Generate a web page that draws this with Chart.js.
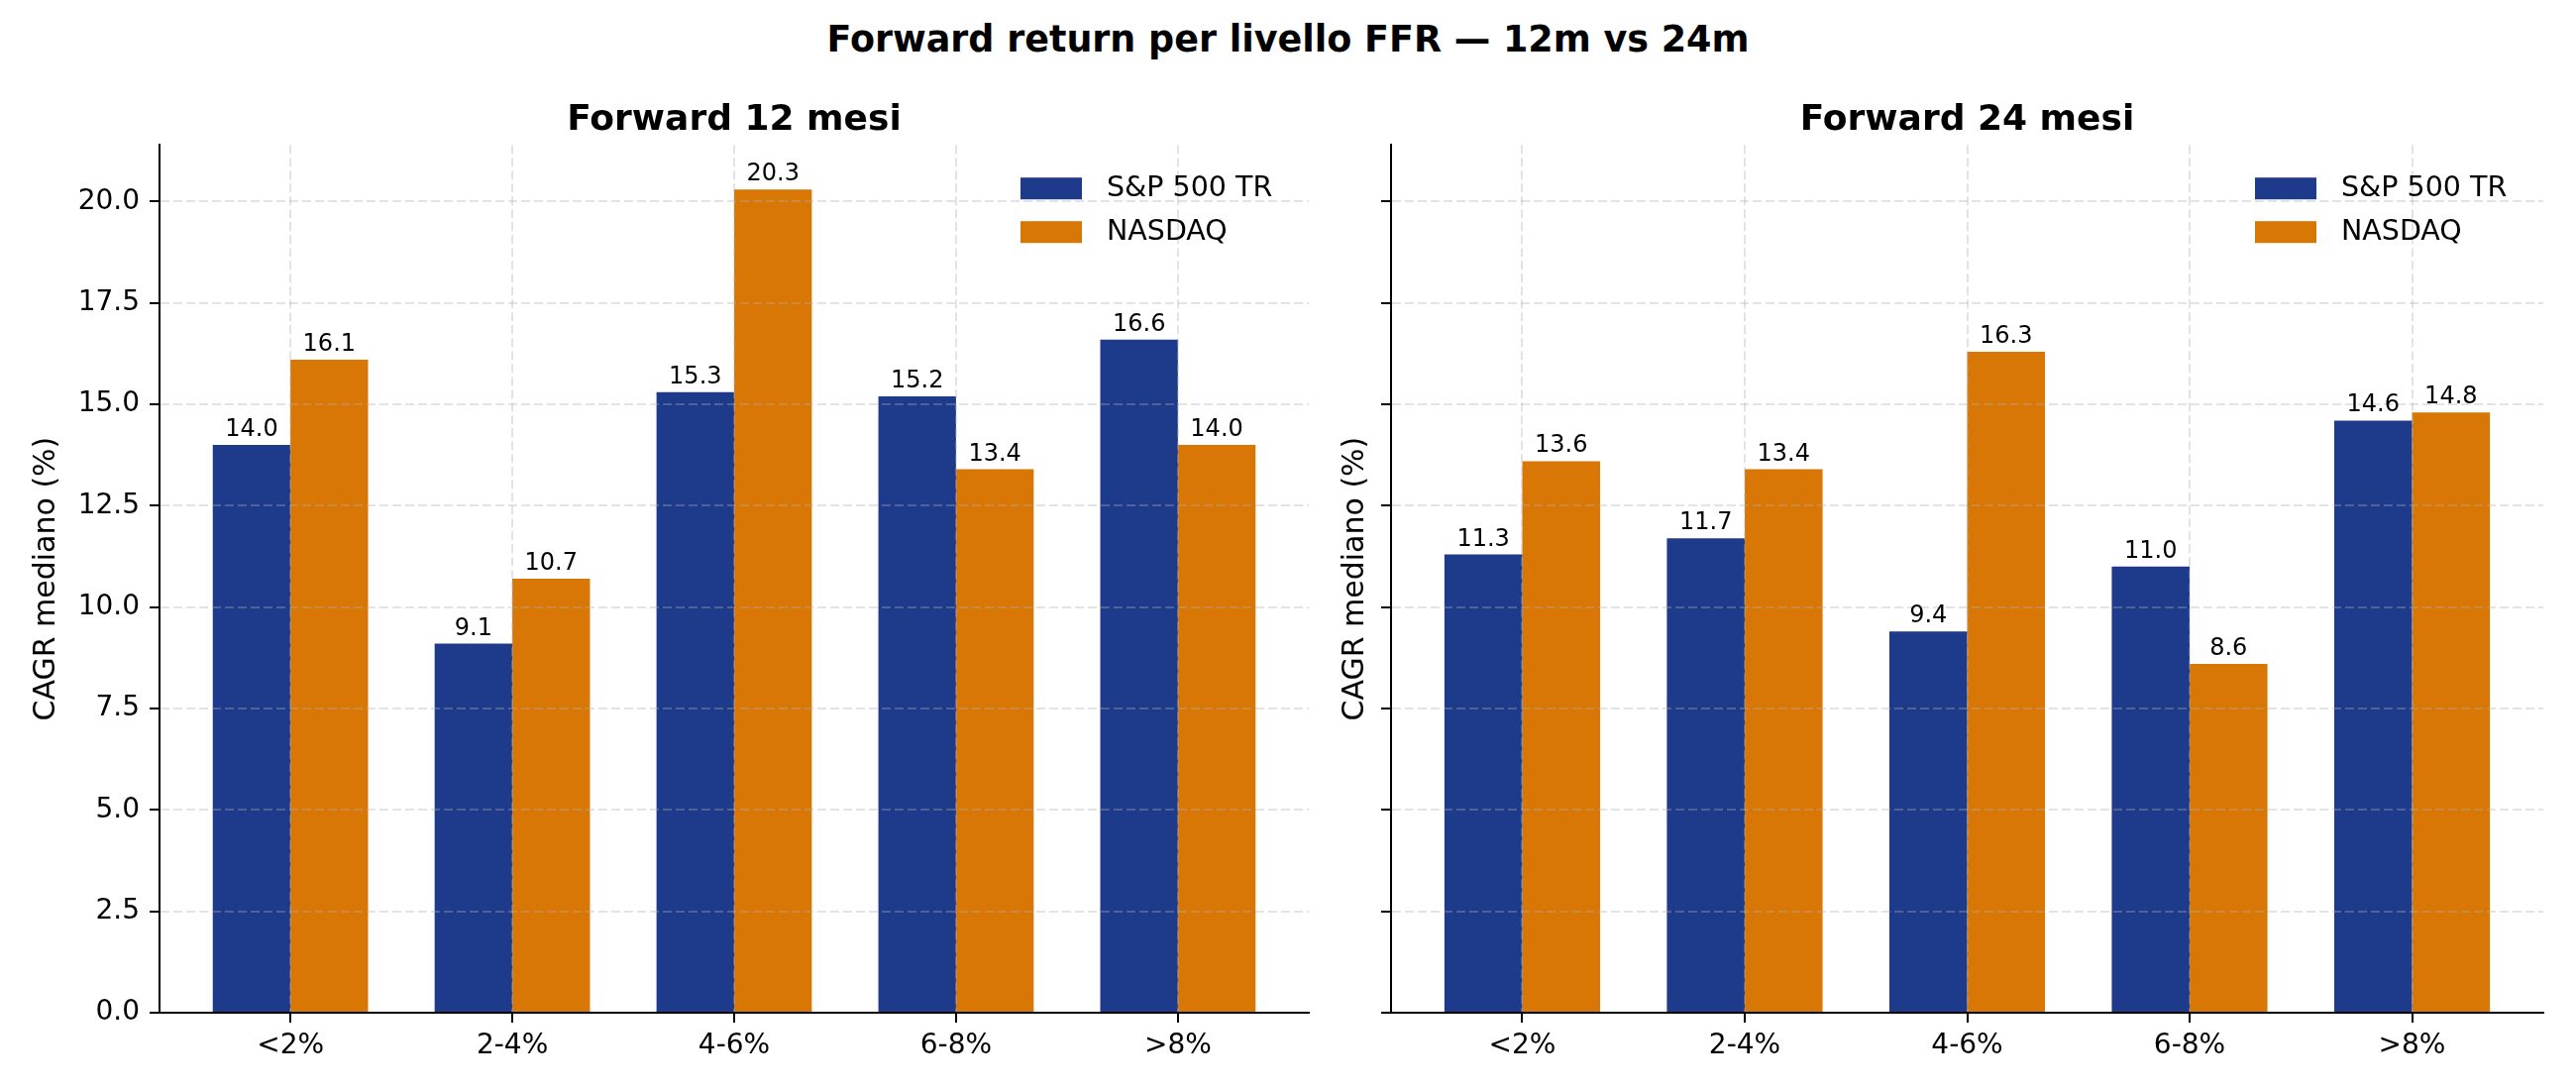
<!DOCTYPE html>
<html lang="it">
<head>
<meta charset="utf-8">
<title>Forward return per livello FFR — 12m vs 24m</title>
<script src="https://cdn.jsdelivr.net/npm/chart.js@4.4.1/dist/chart.umd.min.js"></script>
<style>
  html, body { margin: 0; padding: 0; background: #fff; overflow: hidden; }
  #page { position: relative; width: 2600px; height: 1100px; overflow: hidden; background: #fff; }
  #suptitle {
    position: absolute; left: 0; top: 18px; width: 2600px;
    text-align: center; color: #000;
    font: bold 36.5px 'DejaVu Sans', sans-serif; line-height: 44px;
  }
  canvas { position: absolute; top: 0; }
</style>
</head>
<body>
<div id="page">
  <div id="suptitle">Forward return per livello FFR — 12m vs 24m</div>
  <canvas id="chart12" width="1482" height="1100" style="left:0px"></canvas>
  <canvas id="chart24" width="1371" height="1100" style="left:1300px"></canvas>
</div>
<script>
const FONT = "'DejaVu Sans', sans-serif";

// FFR buckets
const categories = ["<2%", "2-4%", "4-6%", "6-8%", ">8%"];

// median CAGR (%), forward 12 months
const sp500_12m = [14.0, 9.1, 15.3, 15.2, 16.6];
const nasdaq_12m = [16.1, 10.7, 20.3, 13.4, 14.0];

// median CAGR (%), forward 24 months
const sp500_24m = [11.3, 11.7, 9.4, 11.0, 14.6];
const nasdaq_24m = [13.6, 13.4, 16.3, 8.6, 14.8];

const seriesNames = ["S&P 500 TR", "NASDAQ"];
const seriesColors = ["#1e3a8a", "#d97706"];

const yMax = 21.4;
const yStep = 2.5;
const xMin = -0.59;
const xMax = 4.59;

const gridColor = "rgba(176, 176, 176, 0.35)";

// value labels above each bar
const barLabels = {
  id: "barLabels",
  afterDraw(chart) {
    const { ctx } = chart;
    ctx.save();
    ctx.font = `24px ${FONT}`;
    ctx.fillStyle = "#000";
    ctx.textAlign = "center";
    ctx.textBaseline = "alphabetic";
    chart.data.datasets.forEach((ds, di) => {
      chart.getDatasetMeta(di).data.forEach((bar, i) => {
        ctx.fillText(ds.data[i].y.toFixed(1), bar.x, bar.y - 9);
      });
    });
    ctx.restore();
  },
};

// legend drawn inside the plot, upper right, no frame
const innerLegend = {
  id: "innerLegend",
  afterDraw(chart) {
    const { ctx, chartArea } = chart;
    ctx.save();
    ctx.font = `28.5px ${FONT}`;
    ctx.textBaseline = "middle";
    chart.data.datasets.forEach((ds, i) => {
      const x = chartArea.right - 291;
      const y = chartArea.top + 44 + i * 44;
      ctx.fillStyle = ds.backgroundColor;
      ctx.fillRect(x, y - 11, 62, 22);
      ctx.fillStyle = "#000";
      ctx.fillText(ds.label, x + 87, y);
    });
    ctx.restore();
  },
};

function makeChart(canvasId, title, spData, nqData, cfg) {
  const ctx = document.getElementById(canvasId);
  const gridOpts = {
    color: gridColor,
    lineWidth: 2,
    tickColor: "#000",
    tickLength: 10,
    tickWidth: 2,
    offset: false,
    z: 1,
  };
  const borderOpts = { display: true, color: "#000", width: 2, dash: [9, 4], z: 2 };

  return new Chart(ctx, {
    type: "bar",
    data: {
      datasets: [
        {
          label: seriesNames[0],
          data: spData.map((v, i) => ({ x: i, y: v })),
          backgroundColor: seriesColors[0],
        },
        {
          label: seriesNames[1],
          data: nqData.map((v, i) => ({ x: i, y: v })),
          backgroundColor: seriesColors[1],
        },
      ],
    },
    options: {
      responsive: false,
      animation: false,
      devicePixelRatio: 1,
      categoryPercentage: 0.7,
      barPercentage: 1.0,
      layout: { padding: { left: 0, top: 0, bottom: 0, right: cfg.rightPad } },
      plugins: {
        legend: { display: false },
        tooltip: { enabled: false },
        title: {
          display: true,
          fullSize: false,
          text: title,
          color: "#000",
          font: { family: FONT, size: 36, weight: "bold" },
          padding: { top: 100, bottom: 3 },
        },
      },
      scales: {
        x: {
          type: "linear",
          min: xMin,
          max: xMax,
          offset: false,
          z: 1,
          afterBuildTicks: (scale) => {
            scale.ticks = categories.map((c, i) => ({ value: i }));
          },
          afterFit: (scale) => {
            scale.height = 78;
          },
          ticks: {
            callback: (v) => categories[v],
            color: "#000",
            font: { family: FONT, size: 28 },
            padding: 7,
            maxRotation: 0,
            autoSkip: false,
            z: 1,
          },
          grid: gridOpts,
          border: borderOpts,
        },
        y: {
          min: 0,
          max: yMax,
          z: 1,
          afterFit: (scale) => {
            scale.width = cfg.axisWidth;
          },
          ticks: {
            stepSize: yStep,
            includeBounds: false,
            display: cfg.showTickLabels,
            callback: (v) => v.toFixed(1),
            color: "#000",
            font: { family: FONT, size: 28 },
            padding: 10,
            z: 1,
          },
          title: {
            display: true,
            text: "CAGR mediano (%)",
            color: "#000",
            font: { family: FONT, size: 30 },
            padding: { top: cfg.titlePad, bottom: 0 },
          },
          grid: gridOpts,
          border: borderOpts,
        },
      },
    },
    plugins: [barLabels, innerLegend],
  });
}

document.addEventListener("DOMContentLoaded", () => {
  makeChart("chart12", "Forward 12 mesi", sp500_12m, nasdaq_12m, {
    axisWidth: 161,
    rightPad: 161,
    titlePad: 29,
    showTickLabels: true,
  });
  makeChart("chart24", "Forward 24 mesi", sp500_24m, nasdaq_24m, {
    axisWidth: 104,
    rightPad: 104,
    titlePad: 50,
    showTickLabels: false,
  });
});
</script>
</body>
</html>
